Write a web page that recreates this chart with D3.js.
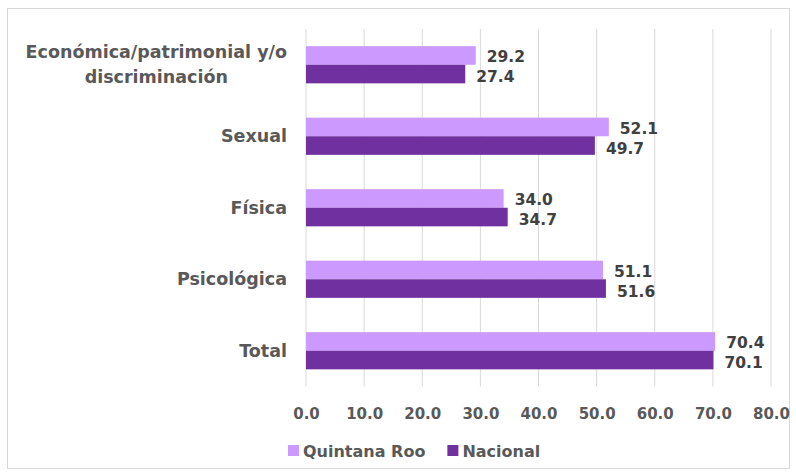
<!DOCTYPE html>
<html>
<head>
<meta charset="utf-8">
<script src="https://cdnjs.cloudflare.com/ajax/libs/d3/7.8.5/d3.min.js"></script>
<style>
  body { margin: 0; background: #fff; }
  text { font-family: "DejaVu Sans", sans-serif; font-weight: 700; }
</style>
</head>
<body>
<svg id="chart" width="796" height="475"></svg>
<script>
// data
const categories = ["Económica/patrimonial y/o discriminación", "Sexual", "Física", "Psicológica", "Total"]
const categoryLines = [["Económica/patrimonial y/o", "discriminación"], ["Sexual"], ["Física"], ["Psicológica"], ["Total"]]
const quintanaRoo = [29.2, 52.1, 34.0, 51.1, 70.4]
const nacional = [27.4, 49.7, 34.7, 51.6, 70.1]
const seriesNames = ["Quintana Roo", "Nacional"]
const xTicks = [0, 10, 20, 30, 40, 50, 60, 70, 80]

const colors = ["#CC99FF", "#7030A0"]

const svg = d3.select('#chart')

// outer frame
svg.append('rect')
    .attr('x', 7.5).attr('y', 8.5)
    .attr('width', 782).attr('height', 460)
    .attr('fill', '#fff')
    .attr('stroke', '#d9d9d9')
    .attr('stroke-width', 1)

const plot = { left: 306, right: 771, top: 29, bottom: 386.5 }

const x = d3.scaleLinear().domain([0, 80]).range([plot.left, plot.right])
const y = d3.scaleBand().domain(categories).range([plot.top, plot.bottom]).paddingInner(0.48).paddingOuter(0.24)
const sub = d3.scaleBand().domain(seriesNames).range([0, y.bandwidth()])

// gridlines
svg.append('g')
    .selectAll('line')
    .data(xTicks)
    .join('line')
    .attr('x1', d => x(d)).attr('x2', d => x(d))
    .attr('y1', plot.top).attr('y2', plot.bottom)
    .attr('stroke', '#d9d9d9')
    .attr('stroke-width', 1)

// x axis labels
const xAxis = d3.axisBottom(x).tickValues(xTicks).tickFormat(d3.format('.1f')).tickSize(0).tickPadding(0)
const gx = svg.append('g')
    .attr('transform', 'translate(0,' + (plot.bottom + 32) + ')')
    .call(xAxis)
gx.select('.domain').remove()
gx.selectAll('text')
    .attr('dy', 0)
    .style('font-size', '15px')
    .style('font-family', '"DejaVu Sans", sans-serif')
    .style('font-weight', 700)
    .attr('fill', '#595959')

// bars
const series = [quintanaRoo, nacional]
series.forEach((vals, si) => {
    svg.append('g')
        .selectAll('rect')
        .data(vals)
        .join('rect')
        .attr('x', x(0))
        .attr('y', (d, i) => y(categories[i]) + sub(seriesNames[si]))
        .attr('width', d => x(d) - x(0))
        .attr('height', sub.bandwidth())
        .attr('fill', colors[si])

    svg.append('g')
        .selectAll('text')
        .data(vals)
        .join('text')
        .attr('x', d => x(d) + 11)
        .attr('y', (d, i) => y(categories[i]) + sub(seriesNames[si]) + sub.bandwidth() / 2 + (si == 0 ? 7 : 8))
        .style('font-size', '15.5px')
        .attr('fill', '#404040')
        .text(d => d.toFixed(1))
})

// category labels
const labelRight = 287
categoryLines.forEach((lines, i) => {
    const cy = y(categories[i]) + y.bandwidth() / 2
    const t = svg.append('text')
        .style('font-size', '17.5px')
        .attr('fill', '#595959')
        .attr('text-anchor', 'middle')
    const lh = 25
    lines.forEach((ln, j) => {
        t.append('tspan')
            .attr('x', 0)
            .attr('y', cy + 6 + (j - (lines.length - 1) / 2) * lh)
            .text(ln)
    })
    let w = 0
    t.selectAll('tspan').each(function () { w = Math.max(w, this.getComputedTextLength()) })
    t.selectAll('tspan').attr('x', labelRight - w / 2)
})

// legend
const legend = svg.append('g').attr('transform', 'translate(288,451)')
let lx = 0
seriesNames.forEach((name, i) => {
    legend.append('rect')
        .attr('x', lx).attr('y', -6)
        .attr('width', 11).attr('height', 11)
        .attr('fill', colors[i])
    const t = legend.append('text')
        .attr('x', lx + 15).attr('y', 6)
        .style('font-size', '16px')
        .attr('fill', '#595959')
        .text(name)
    lx += 15 + t.node().getComputedTextLength() + 22
})
</script>
</body>
</html>
